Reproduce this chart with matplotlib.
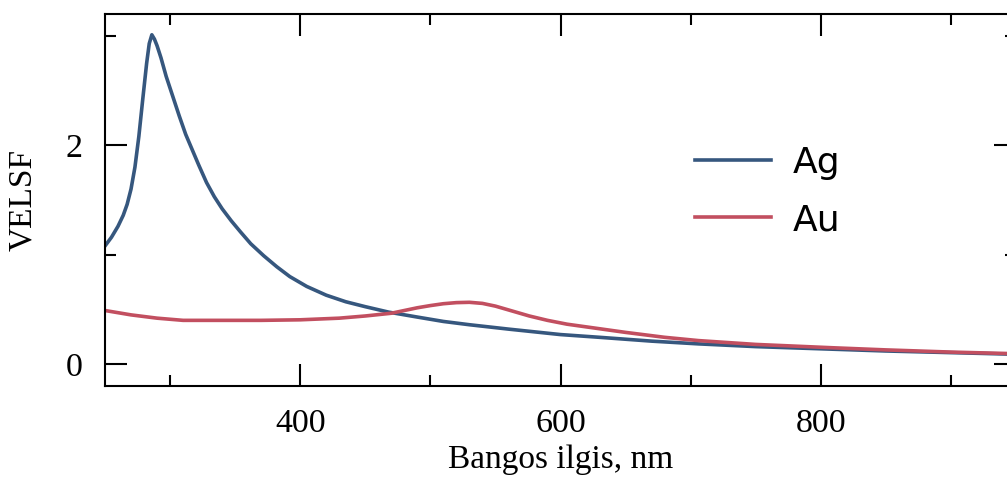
import matplotlib
matplotlib.use("Agg")
import matplotlib.pyplot as plt
from matplotlib.ticker import MultipleLocator

# Ag curve
ag_wl = [250, 255, 260, 264, 267, 270, 273, 276, 279, 282, 284, 286,
         288, 290, 293, 297, 302, 307, 312, 317, 322, 328, 334, 340, 347, 354,
         362, 372, 382, 392, 405, 420, 435, 450, 468, 490, 510, 530, 560, 600,
         630, 670, 706, 750, 800, 850, 900, 950]
ag_val = [1.08, 1.16, 1.26, 1.36, 1.46, 1.60, 1.80, 2.08, 2.42, 2.75, 2.93, 3.01,
          2.97, 2.91, 2.80, 2.63, 2.45, 2.27, 2.10, 1.96, 1.82, 1.66, 1.53, 1.42, 1.31, 1.21,
          1.10, 0.99, 0.89, 0.80, 0.71, 0.63, 0.57, 0.525, 0.475, 0.43, 0.39, 0.36, 0.32, 0.27,
          0.245, 0.21, 0.185, 0.16, 0.14, 0.12, 0.105, 0.09]

# Au curve
au_wl = [250, 260, 270, 280, 290, 300, 310, 340, 370, 400, 430, 450, 470, 480,
         490, 500, 510, 520, 530, 540, 550, 563, 576, 590, 605, 620, 635, 650,
         680, 706, 750, 808, 850, 900, 950]
au_val = [0.49, 0.47, 0.45, 0.435, 0.42, 0.41, 0.40, 0.40, 0.40, 0.405, 0.42, 0.44, 0.465, 0.49,
          0.515, 0.535, 0.552, 0.562, 0.565, 0.555, 0.53, 0.485, 0.44, 0.40, 0.365, 0.34, 0.315, 0.29,
          0.245, 0.215, 0.18, 0.15, 0.13, 0.11, 0.095]

serif = "Liberation Serif"

fig = plt.figure(figsize=(10.07, 4.80), dpi=100)
# right spine sits just outside the picture, like the cropped original
ax = fig.add_axes([105 / 1007, 94 / 480, 911 / 1007, 372 / 480])

ax.plot(ag_wl, ag_val, color="#36577e", lw=2.6, label="Ag")
ax.plot(au_wl, au_val, color="#c24f60", lw=2.6, label="Au")

ax.set_xlim(250, 950)
ax.set_ylim(-0.2, 3.2)

ax.xaxis.set_major_locator(MultipleLocator(200))
ax.xaxis.set_minor_locator(MultipleLocator(100))
ax.yaxis.set_major_locator(MultipleLocator(2))
ax.yaxis.set_minor_locator(MultipleLocator(1))
ax.set_xticks([400, 600, 800])

ax.tick_params(which="both", direction="in", top=True, right=True, width=1.5, color="black")
ax.tick_params(which="major", length=16, pad=16, labelsize=24.5)
ax.tick_params(which="minor", length=8)
for lab in ax.get_xticklabels() + ax.get_yticklabels():
    lab.set_fontfamily(serif)

for sp in ax.spines.values():
    sp.set_linewidth(1.5)

ax.set_xlabel("Bangos ilgis, nm", fontsize=24, family=serif, labelpad=4)
ax.set_ylabel("VELSF", fontsize=24, family=serif, labelpad=20)

ax.legend(loc="upper left", bbox_to_anchor=(695 / 1007, 1 - 146 / 480),
          bbox_transform=fig.transFigure, frameon=False, borderpad=0,
          borderaxespad=0, handlelength=2.1, handletextpad=0.6,
          labelspacing=0.64, prop={"family": "DejaVu Sans", "size": 26})

fig.savefig("out.png", dpi=100)
